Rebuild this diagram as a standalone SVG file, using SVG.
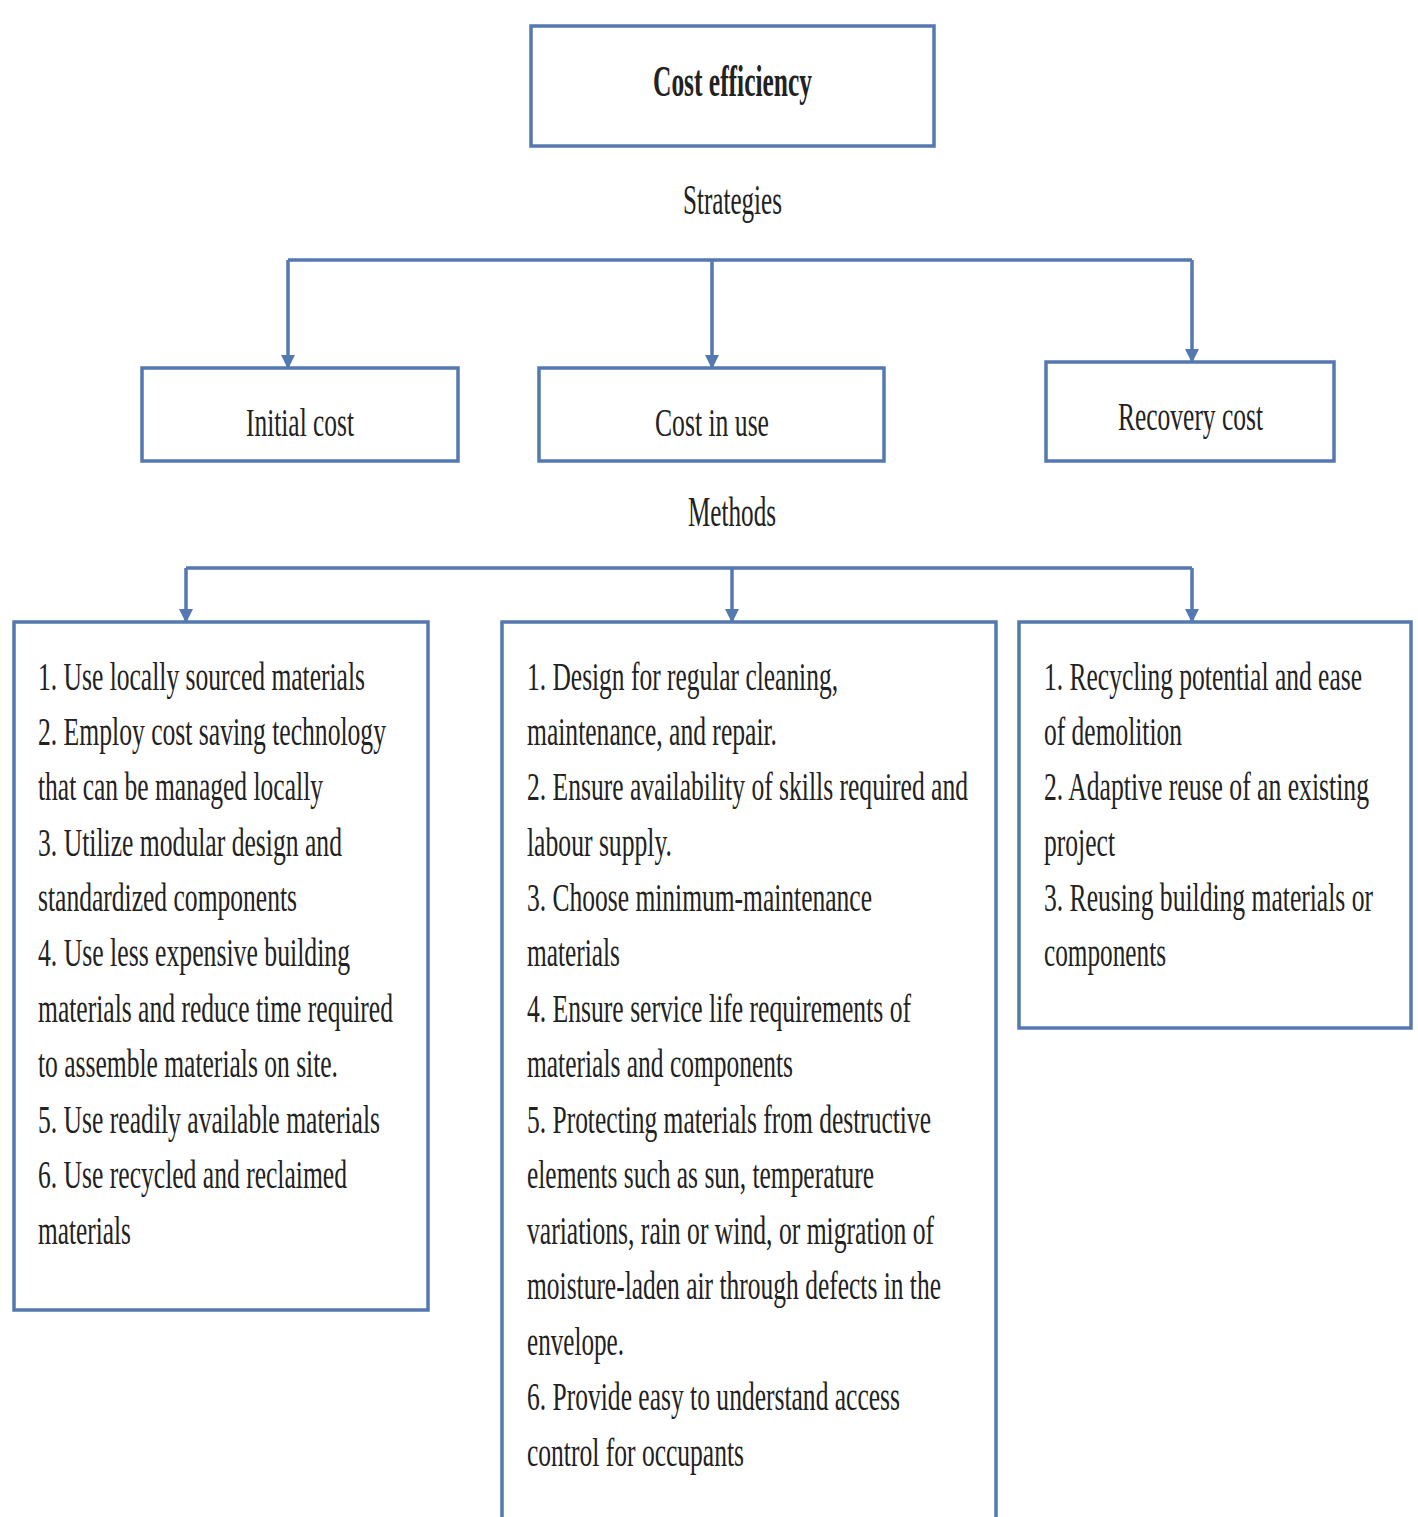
<svg xmlns="http://www.w3.org/2000/svg" width="1418" height="1517" viewBox="0 0 1418 1517">
<defs>
<style>
.box{fill:#ffffff;stroke:#5479b0;stroke-width:3.5}
.con{fill:none;stroke:#5479b0;stroke-width:3.5}
text{font-family:"Liberation Serif","Times New Roman",serif;fill:#222222}
.t{font-size:39px}
.h{font-size:42px}
.b{font-size:44px;font-weight:bold}
</style>
<marker id="ah" viewBox="0 0 14 14" refX="7" refY="13" markerWidth="14" markerHeight="14" markerUnits="userSpaceOnUse" orient="0">
<path d="M0,0 L14,0 L7,14 z" fill="#5479b0"/>
</marker>
</defs>
<rect width="1418" height="1517" fill="#ffffff"/>
<g id="connectors">
<path class="con" d="M288,260 H1192"/>
<path class="con" d="M288,260 V368" marker-end="url(#ah)"/>
<path class="con" d="M712,260 V368" marker-end="url(#ah)"/>
<path class="con" d="M1192,260 V362" marker-end="url(#ah)"/>
<path class="con" d="M186,568 H1192"/>
<path class="con" d="M186,568 V622" marker-end="url(#ah)"/>
<path class="con" d="M732,568 V622" marker-end="url(#ah)"/>
<path class="con" d="M1192,568 V622" marker-end="url(#ah)"/>
</g>
<g id="node-cost-efficiency">
<rect class="box" x="531" y="26" width="403" height="120"/>
<text class="b" x="653" y="96" textLength="159" lengthAdjust="spacingAndGlyphs">Cost efficiency</text>
</g>
<g id="label-strategies">
<text class="h" x="683" y="214" textLength="99" lengthAdjust="spacingAndGlyphs">Strategies</text>
</g>
<g id="node-initial-cost">
<rect class="box" x="142" y="368" width="316" height="93"/>
<text class="t" x="246" y="436" textLength="108" lengthAdjust="spacingAndGlyphs">Initial cost</text>
</g>
<g id="node-cost-in-use">
<rect class="box" x="539" y="368" width="345" height="93"/>
<text class="t" x="655" y="436" textLength="114" lengthAdjust="spacingAndGlyphs">Cost in use</text>
</g>
<g id="node-recovery-cost">
<rect class="box" x="1046" y="362" width="288" height="99"/>
<text class="t" x="1118" y="430" textLength="145" lengthAdjust="spacingAndGlyphs">Recovery cost</text>
</g>
<g id="label-methods">
<text class="h" x="688" y="526" textLength="88" lengthAdjust="spacingAndGlyphs">Methods</text>
</g>
<g id="node-initial-methods">
<rect class="box" x="14" y="622" width="414" height="688"/>
<text class="t" x="38" y="690" textLength="327" lengthAdjust="spacingAndGlyphs">1. Use locally sourced materials</text>
<text class="t" x="38" y="745" textLength="348" lengthAdjust="spacingAndGlyphs">2. Employ cost saving technology</text>
<text class="t" x="38" y="800" textLength="285" lengthAdjust="spacingAndGlyphs">that can be managed locally</text>
<text class="t" x="38" y="856" textLength="304" lengthAdjust="spacingAndGlyphs">3. Utilize modular design and</text>
<text class="t" x="38" y="911" textLength="259" lengthAdjust="spacingAndGlyphs">standardized components</text>
<text class="t" x="38" y="966" textLength="312" lengthAdjust="spacingAndGlyphs">4. Use less expensive building</text>
<text class="t" x="38" y="1022" textLength="355" lengthAdjust="spacingAndGlyphs">materials and reduce time required</text>
<text class="t" x="38" y="1077" textLength="300" lengthAdjust="spacingAndGlyphs">to assemble materials on site.</text>
<text class="t" x="38" y="1133" textLength="342" lengthAdjust="spacingAndGlyphs">5. Use readily available materials</text>
<text class="t" x="38" y="1188" textLength="309" lengthAdjust="spacingAndGlyphs">6. Use recycled and reclaimed</text>
<text class="t" x="38" y="1244" textLength="93" lengthAdjust="spacingAndGlyphs">materials</text>
</g>
<g id="node-in-use-methods">
<path class="box" d="M502,1520 V622 H996 V1520"/>
<text class="t" x="527" y="690" textLength="311" lengthAdjust="spacingAndGlyphs">1. Design for regular cleaning,</text>
<text class="t" x="527" y="745" textLength="250" lengthAdjust="spacingAndGlyphs">maintenance, and repair.</text>
<text class="t" x="527" y="800" textLength="441" lengthAdjust="spacingAndGlyphs">2. Ensure availability of skills required and</text>
<text class="t" x="527" y="856" textLength="145" lengthAdjust="spacingAndGlyphs">labour supply.</text>
<text class="t" x="527" y="911" textLength="345" lengthAdjust="spacingAndGlyphs">3. Choose minimum-maintenance</text>
<text class="t" x="527" y="966" textLength="93" lengthAdjust="spacingAndGlyphs">materials</text>
<text class="t" x="527" y="1022" textLength="384" lengthAdjust="spacingAndGlyphs">4. Ensure service life requirements of</text>
<text class="t" x="527" y="1077" textLength="266" lengthAdjust="spacingAndGlyphs">materials and components</text>
<text class="t" x="527" y="1133" textLength="404" lengthAdjust="spacingAndGlyphs">5. Protecting materials from destructive</text>
<text class="t" x="527" y="1188" textLength="347" lengthAdjust="spacingAndGlyphs">elements such as sun, temperature</text>
<text class="t" x="527" y="1244" textLength="407" lengthAdjust="spacingAndGlyphs">variations, rain or wind, or migration of</text>
<text class="t" x="527" y="1299" textLength="414" lengthAdjust="spacingAndGlyphs">moisture-laden air through defects in the</text>
<text class="t" x="527" y="1355" textLength="97" lengthAdjust="spacingAndGlyphs">envelope.</text>
<text class="t" x="527" y="1410" textLength="373" lengthAdjust="spacingAndGlyphs">6. Provide easy to understand access</text>
<text class="t" x="527" y="1466" textLength="217" lengthAdjust="spacingAndGlyphs">control for occupants</text>
</g>
<g id="node-recovery-methods">
<rect class="box" x="1019" y="622" width="392" height="406"/>
<text class="t" x="1044" y="690" textLength="318" lengthAdjust="spacingAndGlyphs">1. Recycling potential and ease</text>
<text class="t" x="1044" y="745" textLength="138" lengthAdjust="spacingAndGlyphs">of demolition</text>
<text class="t" x="1044" y="800" textLength="325" lengthAdjust="spacingAndGlyphs">2. Adaptive reuse of an existing</text>
<text class="t" x="1044" y="856" textLength="71" lengthAdjust="spacingAndGlyphs">project</text>
<text class="t" x="1044" y="911" textLength="329" lengthAdjust="spacingAndGlyphs">3. Reusing building materials or</text>
<text class="t" x="1044" y="966" textLength="122" lengthAdjust="spacingAndGlyphs">components</text>
</g>
</svg>
